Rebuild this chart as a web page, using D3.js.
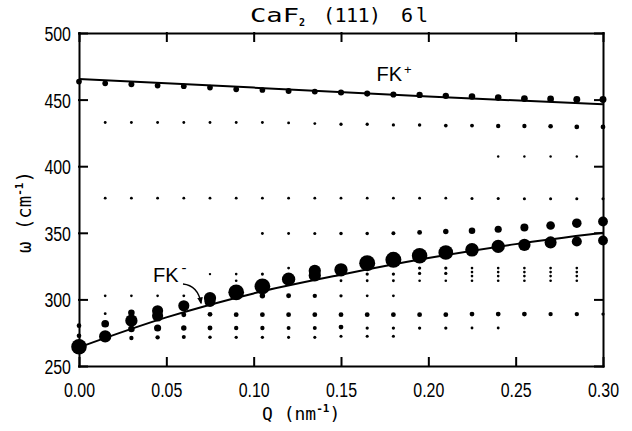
<!DOCTYPE html>
<html>
<head>
<meta charset="utf-8">
<script src="https://cdn.jsdelivr.net/npm/d3@7"></script>
<style>
body { margin:0; background:#fff; }
</style>
</head>
<body>
<script>
var qTicks = [0, 0.05, 0.10, 0.15, 0.20, 0.25, 0.30];
var omegaTicks = [250, 300, 350, 400, 450, 500];

// each point: [Q (nm^-1), omega (cm^-1), intensity (%)]
var fkPlus = [
  [0.000,463.5,12],[0.015,462.2,12],[0.030,461.5,13],[0.045,460.5,12],[0.060,460.0,12],
  [0.075,459.0,12],[0.090,457.7,12],[0.105,457.2,12],[0.120,456.5,13],[0.135,456.0,13],
  [0.150,455.3,14],[0.165,454.5,14],[0.180,453.8,14],[0.195,453.5,15],[0.210,452.8,15],
  [0.225,452.3,16],[0.240,451.5,16],[0.255,450.8,17],[0.270,450.5,17],[0.285,450.0,18],
  [0.300,450.0,18]
];

var row430 = [
  [0.015,432.8,3],[0.030,432.8,3],[0.045,432.8,3],[0.060,432.8,3],[0.075,432.8,3],
  [0.090,432.8,3],[0.105,432.8,3],[0.120,432.5,3],[0.135,432.0,3],[0.150,431.5,4],
  [0.165,431.5,4],[0.180,431.0,4],[0.195,431.0,4.5],[0.210,430.5,5],[0.225,430.5,5.5],
  [0.240,430.2,7],[0.255,430.2,7],[0.270,430.0,8],[0.285,429.5,8.5],[0.300,429.5,8.5]
];

var row407 = [[0.240,407.3,2.2],[0.255,407.3,2.2],[0.270,407.3,2.2],[0.285,407.3,2.2]];

var row376 = [
  [0.015,376,3],[0.030,376,3],[0.045,376,3],[0.060,376,3],[0.075,376,3],
  [0.090,376,3],[0.105,376,3],[0.120,376,3],[0.135,376,3],[0.150,376,3],
  [0.165,376,3],[0.180,376,3],[0.195,376,3],[0.210,376,3],[0.225,375.8,3.5],
  [0.240,375.8,3.5],[0.255,375.6,3.5],[0.270,375.6,3.5],[0.285,375.5,3.5],[0.300,375.5,3.5]
];

var fkMinusUpper = [
  [0.105,349.5,3],[0.120,349.5,3],[0.135,349.5,3.5],[0.150,349.5,4.5],[0.165,349.5,4.5],
  [0.180,349.7,5.8],[0.195,350.3,8.6],[0.210,351.0,11],[0.225,351.5,16],[0.240,352.7,19],
  [0.255,354.0,24],[0.270,355.5,28],[0.285,357.2,34],[0.300,358.5,36]
];

var fkMinus = [
  [0.000,264.5,90],[0.015,272.2,56],[0.030,284.0,56],[0.030,290.0,16],[0.045,291.5,46],
  [0.045,287.5,46],[0.060,295.2,46],[0.075,301.0,56],[0.075,298.5,46],[0.090,305.3,92],
  [0.105,309.8,92],[0.120,315.2,66],[0.135,321.5,56],[0.135,318.0,56],[0.150,322.2,66],
  [0.165,327.2,95],[0.180,329.7,95],[0.195,332.7,90],[0.210,335.2,80],[0.225,337.2,68],
  [0.240,339.8,66],[0.255,341.0,56],[0.270,342.8,54],[0.285,343.5,38],[0.300,344.2,36]
];

var lowRows = [
  [0.000,280.3,8],[0.000,272.7,8],
  [0.015,281.7,22],[0.015,289.3,3],
  [0.030,277.8,16],[0.030,271.0,7],
  [0.045,278.5,19],[0.045,271.5,7],
  [0.060,288.5,9],[0.060,278.5,11],[0.060,271.8,6],
  [0.075,288.8,8.6],[0.075,278.5,9],[0.075,271.5,4.5],
  [0.090,288.5,8.6],[0.090,278.5,7],[0.090,271.5,4],
  [0.105,288.5,8.6],[0.105,278.5,7],[0.105,271.5,4],
  [0.120,288.5,8.6],[0.120,278.5,5.8],[0.120,271.5,3.5],
  [0.135,288.5,8.6],[0.135,278.5,5.8],[0.135,271.5,3.5],
  [0.150,288.5,8.6],[0.150,279.2,8.6],[0.150,272.3,3.5],
  [0.165,288.5,8.6],[0.165,278.5,4],[0.165,272.3,3.5],
  [0.180,288.5,8.6],[0.180,278.5,4],[0.180,272.3,3.5],
  [0.195,288.5,8.6],[0.195,278.5,4],
  [0.210,288.5,8.6],[0.210,278.5,4],
  [0.225,289.0,8.6],[0.225,278.5,3],
  [0.240,289.0,8.6],[0.240,278.5,3],
  [0.255,289.0,8.6],[0.270,289.0,7],[0.285,289.0,7],[0.300,289.0,4]
];

var midRows = [
  [0.015,302.7,2.6],[0.030,302.7,2.6],[0.045,302.7,2.6],[0.060,302.7,3],
  [0.075,319.0,2.2],[0.090,319.0,2.6],[0.090,314.0,2.6],
  [0.105,319.0,3.5],[0.105,302.7,11],
  [0.120,323.5,3],[0.120,302.7,9],
  [0.135,325.0,2.2],[0.135,302.7,7],
  [0.150,314.0,3],[0.150,302.7,4],
  [0.165,319.0,4],[0.165,314.0,3],[0.165,302.7,3],
  [0.180,319.0,4],[0.180,314.0,3],[0.180,302.7,3],
  [0.195,323.5,4],[0.195,319.5,4],[0.195,314.0,2.6],
  [0.210,323.5,4],[0.210,319.5,4],[0.210,314.0,2.6],
  [0.225,323.5,2.6],[0.225,320.5,2.6],[0.225,317.5,2.6],[0.225,314.0,2.6],
  [0.240,323.5,2.6],[0.240,320.5,2.6],[0.240,317.5,2.6],[0.240,314.0,2.6],
  [0.255,323.5,2.6],[0.255,320.5,2.6],[0.255,317.5,2.6],[0.255,314.0,2.6],
  [0.270,323.5,2.6],[0.270,320.5,2.6],[0.270,317.5,2.6],[0.270,314.0,2.6],
  [0.285,323.5,2.6],[0.285,320.5,2.6],[0.285,317.5,2.6],[0.285,314.0,2.6]
];

// fitted dispersion curves [Q, omega]
var fkPlusLine = [[0,465.5],[0.1,459.0],[0.2,452.3],[0.3,446.5]];
var fkMinusLine = [[0,264],[0.05,286.5],[0.1,304.5],[0.15,318.5],[0.2,331],[0.25,341.5],[0.3,350]];

var width = 632, height = 431;
var margin = {top:33, right:29, bottom:65, left:79};

var x = d3.scaleLinear().domain([0, 0.3]).range([margin.left, width - margin.right]);
var y = d3.scaleLinear().domain([250, 500]).range([height - margin.bottom, margin.top]);
var r = d3.scaleSqrt().domain([0, 100]).range([0, 8.2]);

var svg = d3.select('body')
            .append('svg')
            .attr('width', width)
            .attr('height', height);

var numFont = '"Liberation Sans", Arial, sans-serif';
var monoFont = '"DejaVu Sans Mono", monospace';

// axes, ticks pointing inwards on all four sides
var xAxis = d3.axisBottom(x).tickValues(qTicks).tickFormat(d3.format('.2f'))
              .tickSizeInner(-8).tickSizeOuter(0);
var yAxis = d3.axisLeft(y).tickValues(omegaTicks).tickSizeInner(-8).tickSizeOuter(0);

var gx = svg.append('g')
   .attr('transform', 'translate(0,' + y(250) + ')')
   .call(xAxis);
gx.selectAll('text')
  .attr('y', null).attr('dy', null)
  .attr('transform', 'translate(0,31) scale(0.76,1)');

var gy = svg.append('g')
   .attr('transform', 'translate(' + x(0) + ',0)')
   .call(yAxis);
gy.selectAll('text')
  .attr('x', null)
  .attr('dy', '0.36em')
  .attr('transform', 'translate(-8,0) scale(0.76,1)');

svg.append('g')
   .attr('transform', 'translate(0,' + y(500) + ')')
   .call(d3.axisTop(x).tickValues(qTicks).tickFormat('').tickSizeInner(-8).tickSizeOuter(0));

svg.append('g')
   .attr('transform', 'translate(' + x(0.3) + ',0)')
   .call(d3.axisRight(y).tickValues(omegaTicks).tickFormat('').tickSizeInner(-8).tickSizeOuter(0));

svg.selectAll('.domain, .tick line')
   .attr('stroke', '#000')
   .attr('stroke-width', 2)
   .attr('stroke-linecap', 'square');
svg.selectAll('.tick text')
   .attr('font-family', numFont)
   .attr('font-size', '21px')
   .attr('fill', '#000');

// dispersion curves
var line = d3.line()
   .x(function(d){ return x(d[0]); })
   .y(function(d){ return y(d[1]); });

svg.append('path')
   .attr('d', line(fkPlusLine))
   .attr('fill', 'none').attr('stroke', '#000').attr('stroke-width', 2);

svg.append('path')
   .attr('d', line.curve(d3.curveMonotoneX)(fkMinusLine))
   .attr('fill', 'none').attr('stroke', '#000').attr('stroke-width', 2);

// intensity dots
var allDots = [].concat(row407, row376, row430, midRows, lowRows, fkMinusUpper, fkPlus, fkMinus);

svg.append('g')
   .selectAll('circle')
   .data(allDots)
   .enter()
   .append('circle')
   .attr('cx', function(d){ return x(d[0]); })
   .attr('cy', function(d){ return y(d[1]); })
   .attr('r', function(d){ return r(d[2]); })
   .attr('fill', '#000');

// branch labels
var fkp = svg.append('text')
   .attr('x', 376.5).attr('y', 80.7)
   .attr('font-family', numFont).attr('font-size', '20px');
fkp.append('tspan').text('FK');
fkp.append('tspan').attr('font-size', '13px').attr('dx', 2).attr('dy', -7).text('+');

var fkm = svg.append('text')
   .attr('x', 153).attr('y', 281.7)
   .attr('font-family', numFont).attr('font-size', '20px');
fkm.append('tspan').text('FK');
fkm.append('tspan').attr('font-size', '15px').attr('dx', 3).attr('dy', -9).text('-');

svg.append('defs').append('marker')
   .attr('id', 'arrow')
   .attr('viewBox', '0 0 10 10')
   .attr('refX', 8).attr('refY', 5)
   .attr('markerWidth', 7).attr('markerHeight', 7)
   .attr('markerUnits', 'userSpaceOnUse')
   .attr('orient', 'auto')
   .append('path')
   .attr('d', 'M0,1 L10,5 L0,9 Z')
   .attr('fill', '#000');

svg.append('path')
   .attr('d', 'M183,284 C193,285 199,292 201,303')
   .attr('fill', 'none').attr('stroke', '#000').attr('stroke-width', 1.3)
   .attr('marker-end', 'url(#arrow)');

// title
var title = svg.append('text')
   .attr('y', 22)
   .attr('font-family', monoFont).attr('font-size', '20px').attr('fill', '#000');
title.append('tspan').attr('x', 250).attr('textLength', 49)
     .attr('lengthAdjust', 'spacingAndGlyphs').text('CaF');
title.append('tspan').attr('x', 299).attr('dy', 4).attr('font-size', '10px').attr('font-weight', 'bold').text('2');
title.append('tspan').attr('x', 323).attr('dy', -4).attr('textLength', 58).text('(111)');
title.append('tspan').attr('x', 401).attr('textLength', 27).text('6l');

// axis titles
var qLabel = svg.append('text')
   .attr('x', 262).attr('y', 420)
   .attr('font-family', monoFont).attr('font-size', '18px');
qLabel.append('tspan').text('Q (nm');
qLabel.append('tspan').attr('font-size', '11px').attr('font-weight', 'bold').attr('dy', -8).text('-1');
qLabel.append('tspan').attr('dy', 8).text(')');

var wLabel = svg.append('text')
   .attr('transform', 'translate(31,253) rotate(-90)')
   .attr('font-family', monoFont).attr('font-size', '19px');
wLabel.append('tspan').text('\u03c9 (cm');
wLabel.append('tspan').attr('font-size', '11px').attr('font-weight', 'bold').attr('dy', -8).text('-1');
wLabel.append('tspan').attr('dy', 8).text(')');
</script>
</body>
</html>
